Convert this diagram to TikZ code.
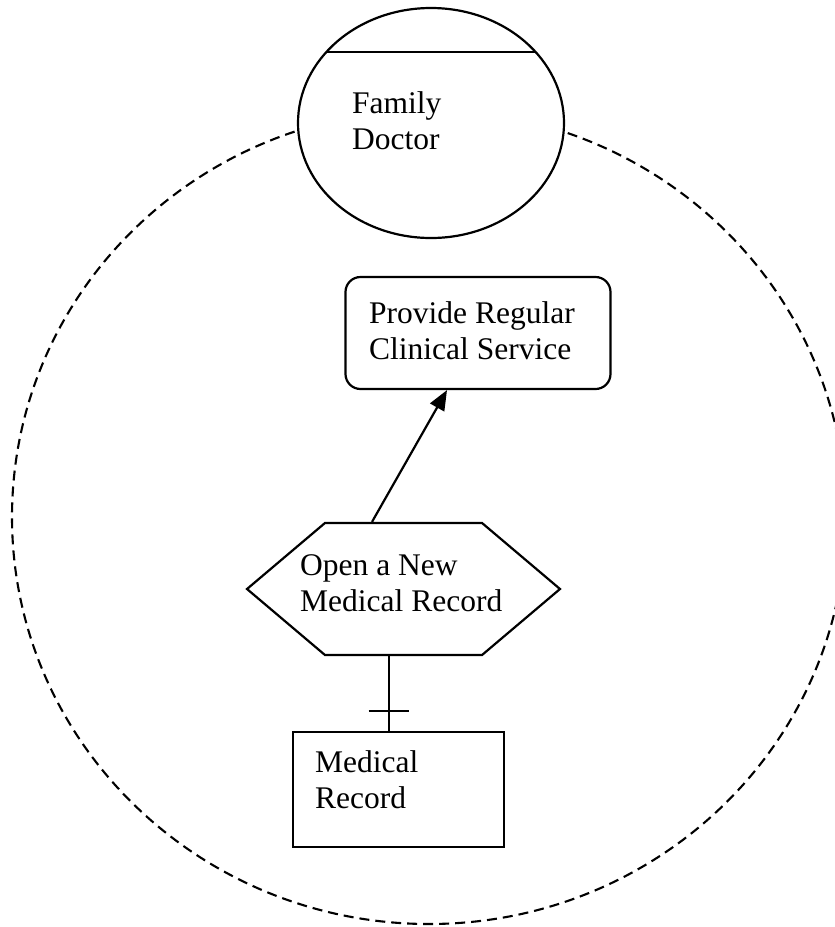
\documentclass[tikz,border=0pt]{standalone}
\usepackage{fontspec}
\setmainfont{Liberation Serif}
\usetikzlibrary{shapes.geometric,shapes.symbols,arrows.meta,calc}

\tikzset{
  line/.style={line width=2.2pt, draw=black},
  labeltext/.style={inner sep=0pt, align=left, anchor=base west,
    font=\fontsize{31.5}{36}\selectfont},
  boundary/.style={ellipse, draw=black, line width=2.1pt,
    dash pattern=on 10pt off 6pt, inner sep=0pt},
  actor/.style={ellipse, line, fill=white, inner sep=0pt},
  service/.style={rectangle, line, rounded corners=15pt, inner sep=0pt},
  process/.style={signal, signal to=west and east, signal pointer angle=80.5,
    line, inner sep=0pt},
  entity/.style={rectangle, line, inner sep=0pt},
  flow/.style={line, -{Triangle[length=20pt,width=16pt]}},
}

\begin{document}
\begin{tikzpicture}[x=1pt, y=-1pt]
  \useasboundingbox (0,0) rectangle (835,927);
  \clip (0,0) rectangle (835,927);

  % system boundary
  \node[boundary, minimum width=834pt, minimum height=814pt] (system) at (429,517) {};

  % actor
  \node[actor, minimum width=266pt, minimum height=230pt] (doctor) at (431,123) {};
  \coordinate (chordL) at (326,52);
  \coordinate (chordR) at (536,52);
  \draw[line] (chordL) -- (chordR);
  \node[labeltext] (doctortext) at (352,149) {Family\\Doctor};

  % service
  \node[service, minimum width=265pt, minimum height=112pt] (service) at (478,333) {};
  \node[labeltext] (servicetext) at (369,359) {Provide Regular\\Clinical Service};

  % process
  \node[process, minimum width=313pt, minimum height=132pt] (process) at (403.5,589) {};
  \node[labeltext] (processtext) at (300,611) {Open a New\\Medical Record};

  % entity
  \node[entity, minimum width=211pt, minimum height=115pt] (record) at (398.5,789.5) {};
  \node[labeltext] (recordtext) at (315,808) {Medical\\Record};

  % connectors
  \draw[flow] ($(process.north)+(-31.5,0)$) -- ($(service.south)+(-31,0)$);
  \draw[line] ($(process.south)+(-14.5,0)$) -- ($(record.north)+(-9.5,0)$);
  \draw[line] ($(record.north)+(-30,-20)$) -- ++(40,0);
\end{tikzpicture}
\end{document}
